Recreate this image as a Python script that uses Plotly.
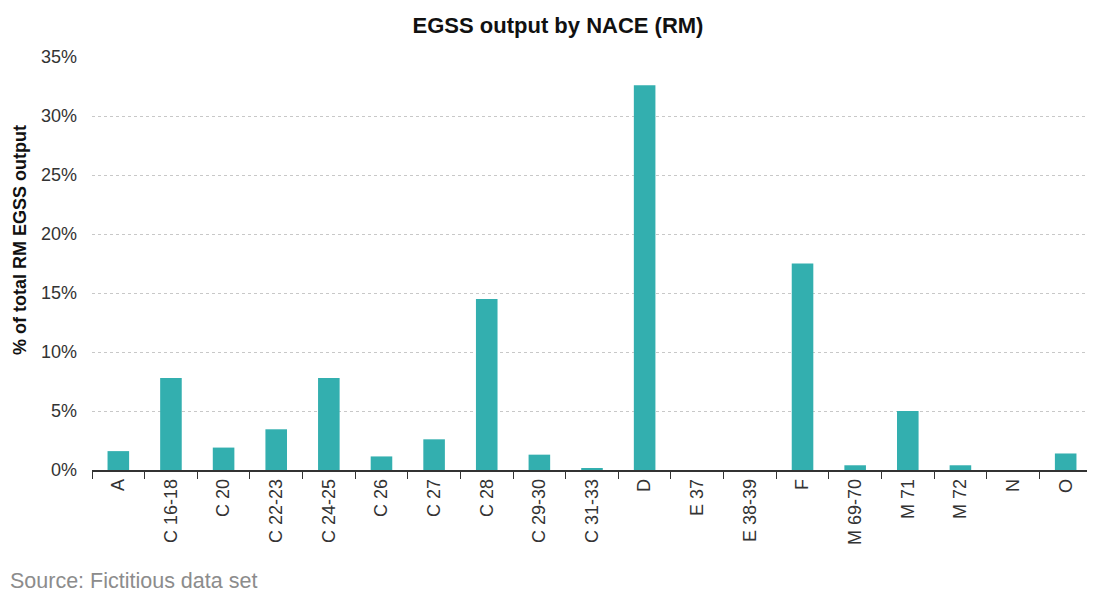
import plotly.graph_objects as go

# NACE categories and share of total RM EGSS output (%)
categories = [
    "A", "C 16-18", "C 20", "C 22-23", "C 24-25", "C 26", "C 27", "C 28",
    "C 29-30", "C 31-33", "D", "E 37", "E 38-39", "F", "M 69-70", "M 71",
    "M 72", "N", "O",
]
share_pct = [
    1.6, 7.8, 1.9, 3.45, 7.8, 1.15, 2.6, 14.5,
    1.3, 0.15, 32.6, 0.0, 0.0, 17.5, 0.4, 5.0,
    0.4, 0.0, 1.4,
]
y_ticks = [0, 5, 10, 15, 20, 25, 30, 35]

font = "Liberation Sans, Arial, sans-serif"

fig = go.Figure()
fig.add_trace(
    go.Bar(
        x=categories,
        y=share_pct,
        marker_color="#33afaf",
        marker_line_width=0,
        hovertemplate="%{x}: %{y}%<extra></extra>",
    )
)

# the page body adds an 8px margin, so the figure is sized to fit the window
fig.update_layout(
    width=1087,
    height=585,
    margin=dict(l=84, r=3, t=49, b=123),
    plot_bgcolor="white",
    paper_bgcolor="white",
    bargap=0.59,
    showlegend=False,
    font=dict(family=font, color="#333333"),
    title=dict(
        text="<b>EGSS output by NACE (RM)</b>",
        x=0.506,
        xanchor="center",
        y=0.971,
        yanchor="middle",
        font=dict(size=22, color="#111111", family=font),
    ),
    annotations=[
        dict(
            text="Source: Fictitious data set",
            xref="paper",
            yref="paper",
            x=-0.084,
            y=-0.269,
            xanchor="left",
            yanchor="middle",
            showarrow=False,
            font=dict(size=21.5, color="#8c8c8c", family=font),
        ),
        dict(
            text="<b>% of total RM EGSS output</b>",
            xref="paper",
            yref="paper",
            x=-0.072,
            y=0.557,
            xanchor="center",
            yanchor="middle",
            textangle=-90,
            showarrow=False,
            font=dict(size=18, color="#111111", family=font),
        ),
    ],
)

fig.update_xaxes(
    type="category",
    automargin=False,
    tickangle=-90,
    tickson="boundaries",
    ticks="outside",
    ticklen=7,
    tickcolor="#333333",
    showline=True,
    linecolor="#333333",
    linewidth=1.5,
    tickfont=dict(size=18, color="#333333"),
    showgrid=False,
)

fig.update_yaxes(
    automargin=False,
    range=[0, 35],
    tickvals=y_ticks,
    ticktext=[f"{v}%" for v in y_ticks],
    tickfont=dict(size=18, color="#333333"),
    ticklabelstandoff=14,
    showgrid=True,
    gridcolor="#c8c8c8",
    griddash="dot",
    gridwidth=1,
    zeroline=False,
    ticks="",
)

fig.write_html("out.html")
